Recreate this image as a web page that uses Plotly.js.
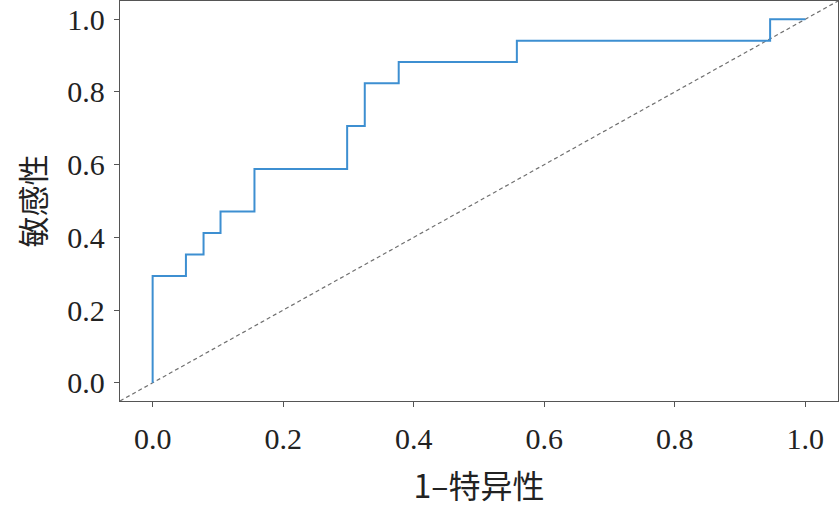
<!DOCTYPE html>
<html>
<head>
<meta charset="utf-8">
<script src="https://cdn.plot.ly/plotly-3.0.1.min.js"></script>
<style>html,body{margin:0;padding:0;background:#fff;}#chart{width:840px;height:507px;}</style>
</head>
<body>
<div id="chart"></div>
<script>
// ROC curve points (1 - specificity, sensitivity)
var fpr = [0, 0, 0.051, 0.051, 0.078, 0.078, 0.104, 0.104, 0.156, 0.156, 0.298, 0.298, 0.325, 0.325, 0.377, 0.377, 0.558, 0.558, 0.946, 0.946, 1.0];
var tpr = [0, 0.294, 0.294, 0.353, 0.353, 0.412, 0.412, 0.471, 0.471, 0.588, 0.588, 0.706, 0.706, 0.824, 0.824, 0.882, 0.882, 0.941, 0.941, 1.0, 1.0];
var diagX = [-0.05, 1.05];
var diagY = [-0.05, 1.05];
var tickVals = [0, 0.2, 0.4, 0.6, 0.8, 1.0];
var tickText = ['0.0', '0.2', '0.4', '0.6', '0.8', '1.0'];

var traces = [
  {x: diagX, y: diagY, mode: 'lines', line: {color: '#707070', width: 1.2, dash: '4px,3px'}, hoverinfo: 'skip'},
  {x: fpr, y: tpr, mode: 'lines', line: {color: '#3d8fd1', width: 2}}
];

var axisFont = {family: '"Liberation Serif", serif', size: 30, color: '#222'};
var layout = {
  width: 840, height: 507,
  margin: {l: 120, r: 2, t: 1, b: 106},
  paper_bgcolor: '#fff', plot_bgcolor: '#fff',
  showlegend: false,
  xaxis: {
    range: [-0.05, 1.05], tickvals: tickVals, ticktext: tickText,
    showgrid: false, zeroline: false,
    showline: true, linecolor: '#555', linewidth: 1.3, mirror: true,
    ticks: 'outside', ticklen: 5, tickcolor: '#555', tickwidth: 1,
    tickfont: axisFont, ticklabelstandoff: 6,
    title: {text: '1–特异性', font: {family: '"Noto Sans CJK SC", "Liberation Serif"', size: 32, color: '#222'}, standoff: 22}
  },
  yaxis: {
    range: [-0.05, 1.05], tickvals: tickVals, ticktext: tickText,
    showgrid: false, zeroline: false,
    showline: true, linecolor: '#555', linewidth: 1.3, mirror: true,
    ticks: 'outside', ticklen: 5, tickcolor: '#555', tickwidth: 1,
    tickfont: axisFont, ticklabelstandoff: 3,
    title: {text: '敏感性', font: {family: '"Noto Sans CJK SC"', size: 31, color: '#222'}, standoff: 12}
  }
};
Plotly.newPlot('chart', traces, layout, {displayModeBar: false, staticPlot: true});
</script>
</body>
</html>
